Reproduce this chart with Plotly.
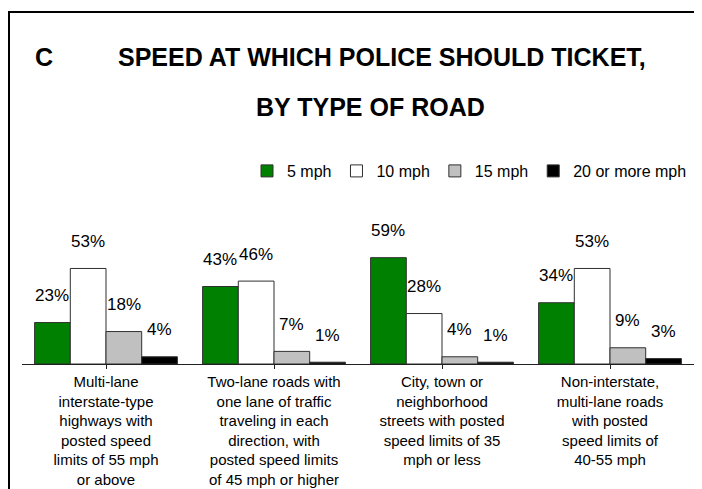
import plotly.graph_objects as go

categories = [
    "Multi-lane<br>interstate-type<br>highways with<br>posted speed<br>limits of 55 mph<br>or above",
    "Two-lane roads with<br>one lane of traffic<br>traveling in each<br>direction, with<br>posted speed limits<br>of 45 mph or higher",
    "City, town or<br>neighborhood<br>streets with posted<br>speed limits of 35<br>mph or less",
    "Non-interstate,<br>multi-lane roads<br>with posted<br>speed limits of<br>40-55 mph",
]
series_names = ["5 mph", "10 mph", "15 mph", "20 or more mph"]
v5 = [23, 43, 59, 34]
v10 = [53, 46, 28, 53]
v15 = [18, 7, 4, 9]
v20 = [4, 1, 1, 3]
series_values = [v5, v10, v15, v20]
colors = ["#008000", "#FFFFFF", "#C0C0C0", "#000000"]

# page body margin offsets the figure by 8px; work in screen coordinates
OFF = 8
W, H = 702 - OFF, 489 - OFF
PLOT_L, PLOT_R, PLOT_T, PLOT_B = 22, 694, 200, 364   # screen px
L, R, T, B = PLOT_L - OFF, (W + OFF) - PLOT_R, PLOT_T - OFF, (H + OFF) - PLOT_B
PW, PH = W - L - R, H - T - B
BARGAP = 0.15

def px_x(x):
    return (x - PLOT_L) / PW

def px_y(y):
    return (PLOT_B - y) / PH

FONT = "Liberation Sans, Arial, sans-serif"

fig = go.Figure()
for name, vals, col in zip(series_names, series_values, colors):
    fig.add_trace(go.Bar(
        x=list(range(len(categories))), y=vals, name=name,
        marker=dict(color=col, line=dict(color="#303030", width=1)),
    ))

annotations = []
n = len(series_names)
w = (1 - BARGAP) / n
for j, vals in enumerate(series_values):
    for i, v in enumerate(vals):
        annotations.append(dict(
            x=i + (j - (n - 1) / 2) * w, y=v, xref="x", yref="y",
            text=f"{v}%", showarrow=False, yshift=27, yanchor="middle",
            font=dict(family=FONT, size=17, color="black"),
        ))

TITLE_FONT = dict(family=FONT, size=25, color="black")
annotations.append(dict(x=px_x(44), y=px_y(57), xref="paper", yref="paper",
                        text="<b>C</b>", showarrow=False, xanchor="center", yanchor="middle",
                        font=TITLE_FONT))
annotations.append(dict(x=px_x(382), y=px_y(57), xref="paper", yref="paper",
                        text="<b>SPEED AT WHICH POLICE SHOULD TICKET,</b>", showarrow=False,
                        xanchor="center", yanchor="middle", font=TITLE_FONT))
annotations.append(dict(x=px_x(370), y=px_y(107), xref="paper", yref="paper",
                        text="<b>BY TYPE OF ROAD</b>", showarrow=False,
                        xanchor="center", yanchor="middle", font=TITLE_FONT))

shapes = [
    dict(type="line", xref="paper", yref="paper", x0=px_x(9), x1=px_x(9), y0=px_y(12), y1=px_y(489),
         line=dict(color="black", width=2)),
    dict(type="line", xref="paper", yref="paper", x0=px_x(8), x1=px_x(702), y0=px_y(12), y1=px_y(12),
         line=dict(color="black", width=2)),
]

fig.update_layout(
    width=W, height=H,
    margin=dict(l=L, r=R, t=T, b=B, autoexpand=False),
    paper_bgcolor="white", plot_bgcolor="white",
    barmode="group", bargap=BARGAP, bargroupgap=0,
    showlegend=True,
    legend=dict(orientation="h", x=px_x(692), xanchor="right", y=px_y(171), yanchor="middle",
                font=dict(family=FONT, size=16, color="black"), bgcolor="rgba(0,0,0,0)",
                traceorder="normal", itemwidth=30),
    annotations=annotations, shapes=shapes,
    xaxis=dict(tickmode="array", tickvals=list(range(len(categories))), ticktext=categories,
               range=[-0.5, len(categories) - 0.5],
               showline=True, linecolor="#202020", linewidth=1,
               ticks="outside", ticklen=4, tickcolor="#202020", tickson="boundaries",
               showgrid=False, zeroline=False,
               tickfont=dict(family=FONT, size=15, color="black")),
    yaxis=dict(range=[0, 91], visible=False, showgrid=False, zeroline=False),
)

fig.write_html("out.html")
